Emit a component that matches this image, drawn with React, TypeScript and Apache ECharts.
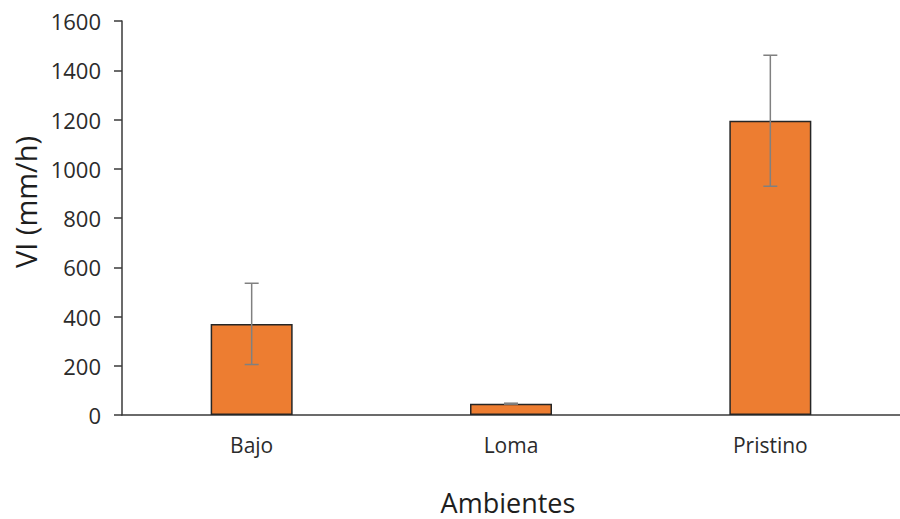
import React, { useEffect, useRef } from "react";
import * as echarts from "echarts";

const categories = ["Bajo", "Loma", "Pristino"];
const means = [370, 46, 1195];
const errors = [165, 2, 266];
const yTicks = { min: 0, max: 1600, interval: 200 };

export default function App() {
  const ref = useRef<HTMLDivElement>(null);
  useEffect(() => {
    if (!ref.current) return;
    const chart = echarts.init(ref.current, null, { renderer: "svg" });
    const font = "'Open Sans', 'Noto Sans', sans-serif";
    chart.setOption({
      animation: false,
      backgroundColor: "#ffffff",
      grid: { left: 122, top: 21, bottom: 104, width: 785, containLabel: false },
      xAxis: {
        type: "category",
        data: categories,
        axisTick: { show: false },
        axisLine: { lineStyle: { color: "#3a3a3a", width: 1.5 } },
        axisLabel: { color: "#2b2b2b", fontSize: 21, fontFamily: font, margin: 19 },
      },
      yAxis: {
        type: "value",
        min: yTicks.min,
        max: yTicks.max,
        interval: yTicks.interval,
        splitLine: { show: false },
        axisLine: { show: true, lineStyle: { color: "#3a3a3a", width: 1.5 } },
        axisTick: { show: true, length: 8, lineStyle: { color: "#3a3a3a", width: 1.5 } },
        axisLabel: {
          color: "#2b2b2b",
          fontSize: 22,
          fontFamily: font,
          margin: 21,
          formatter: (v: number) => String(v),
        },
      },
      graphic: [
        {
          type: "text",
          x: 25,
          y: 202,
          rotation: Math.PI / 2,
          style: {
            text: "VI (mm/h)",
            fontSize: 29,
            fontFamily: font,
            fill: "#1e1e1e",
            align: "center",
            verticalAlign: "middle",
          },
        },
        {
          type: "text",
          x: 508,
          y: 502,
          style: {
            text: "Ambientes",
            fontSize: 27,
            lineHeight: 28,
            fontFamily: font,
            fill: "#1e1e1e",
            align: "center",
            verticalAlign: "middle",
          },
        },
      ],
      series: [
        {
          type: "bar",
          data: means,
          barWidth: 82,
          itemStyle: { color: "#ED7D31", borderColor: "#262626", borderWidth: 1.5 },
        },
        {
          type: "custom",
          data: categories.map((_, i) => [i, means[i] - errors[i], means[i] + errors[i]]),
          renderItem: (params: any, api: any) => {
            const i = api.value(0);
            const lo = api.coord([i, api.value(1)]);
            const hi = api.coord([i, api.value(2)]);
            const hw = 7;
            const style = { stroke: "#808080", lineWidth: 1.5 };
            return {
              type: "group",
              children: [
                { type: "line", shape: { x1: lo[0], y1: lo[1], x2: hi[0], y2: hi[1] }, style },
                { type: "line", shape: { x1: lo[0] - hw, y1: lo[1], x2: lo[0] + hw, y2: lo[1] }, style },
                { type: "line", shape: { x1: hi[0] - hw, y1: hi[1], x2: hi[0] + hw, y2: hi[1] }, style },
              ],
            };
          },
          z: 10,
        },
      ],
    });
    return () => chart.dispose();
  }, []);
  return (
    <div
      ref={ref}
      style={{ position: "absolute", left: 0, top: 0, width: 900, height: 519, background: "#fff" }}
    />
  );
}
